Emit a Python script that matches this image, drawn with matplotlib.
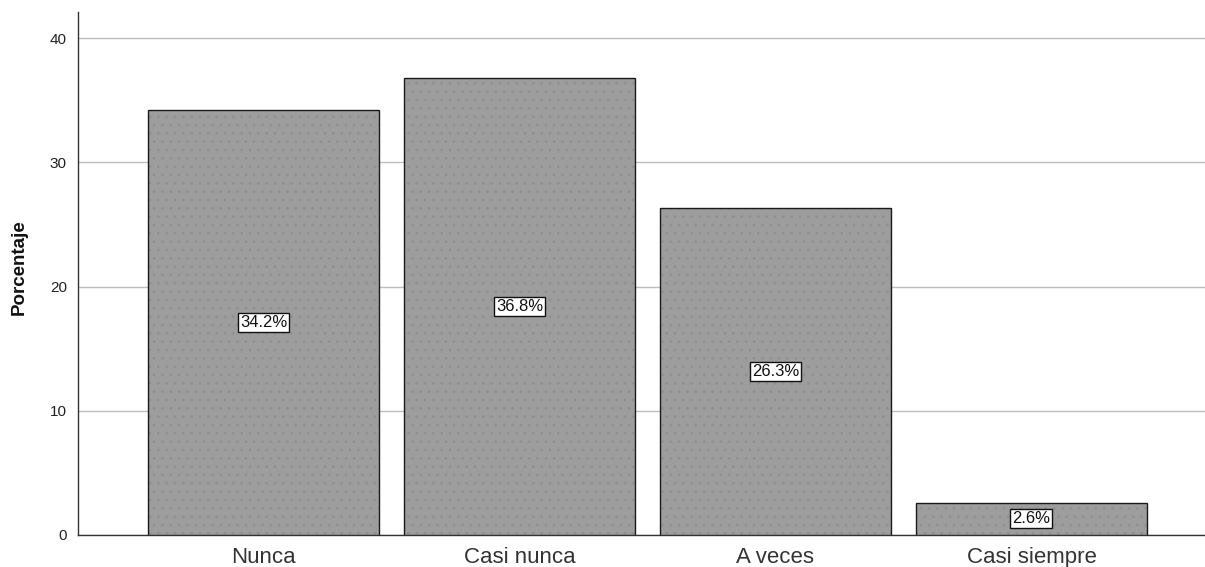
import matplotlib
matplotlib.use("Agg")
import matplotlib.pyplot as plt

categories = ["Nunca", "Casi nunca", "A veces", "Casi siempre"]
percentages = [34.2, 36.8, 26.3, 2.6]
y_ticks = [0, 10, 20, 30, 40]

plt.rcParams["font.family"] = ["Liberation Sans", "DejaVu Sans"]
plt.rcParams["hatch.linewidth"] = 0.7

W, H = 1205, 567
fig = plt.figure(figsize=(W / 100, H / 100), dpi=100)
ax = fig.add_axes([78 / W, 32 / H, 1 - 78 / W, (535 - 12) / H])

x = list(range(len(categories)))
# stippled fill (hatch takes the edge colour), then the dark outline on top
ax.bar(x, percentages, width=0.902, facecolor="#9d9d9d", edgecolor="#8f8f8f",
       linewidth=0, hatch="..", zorder=3)
ax.bar(x, percentages, width=0.902, fill=False, edgecolor="#1a1a1a",
       linewidth=1.0, zorder=3)

for xi, val in zip(x, percentages):
    ax.text(xi, val / 2, f"{val:.1f}%", ha="center", va="center", fontsize=12,
            color="#111111", zorder=4,
            bbox=dict(boxstyle="square,pad=0.12", facecolor="white",
                      edgecolor="#111111", linewidth=1.0))

ax.set_xlim(-0.7246, 3.678)
ax.set_ylim(0, 42.1)
ax.set_yticks(y_ticks)
ax.set_xticks(x)
ax.set_xticklabels(categories, fontsize=16, color="#333333")
ax.tick_params(axis="x", length=0, pad=8.5)
ax.tick_params(axis="y", length=0, labelsize=11, pad=8, labelcolor="#222222")
ax.yaxis.grid(True, color="#bdbdbd", linewidth=1.0, zorder=0)
ax.set_axisbelow(True)

for side in ["top", "right"]:
    ax.spines[side].set_visible(False)
for side in ["left", "bottom"]:
    ax.spines[side].set_color("#333333")
    ax.spines[side].set_linewidth(1.0)

fig.text(19 / W, 1 - 267 / H, "Porcentaje", rotation=90, ha="center",
         va="center", fontsize=13.5, fontweight="bold", color="#111111")

fig.savefig("out.png", dpi=100)
